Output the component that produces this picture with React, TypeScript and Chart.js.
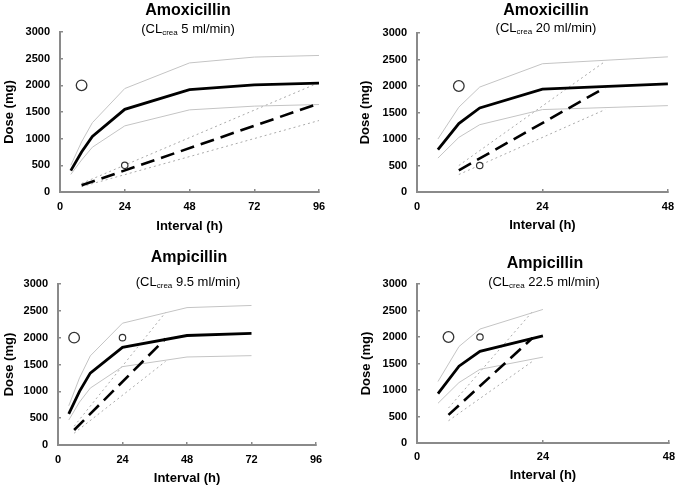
import React, { useEffect, useRef } from "react";
import { Chart, registerables } from "chart.js";

Chart.register(...registerables);

const FONT = "'Liberation Sans', Arial, sans-serif";

// ---------- Data ----------
// Panel A: Amoxicillin, CLcrea 5 ml/min
const AMOX5_HOURS = [4, 8, 12, 24, 48, 72, 96];
const AMOX5_MEDIAN = [400, 750, 1040, 1550, 1920, 2010, 2040];
const AMOX5_UPPER = [500, 940, 1300, 1940, 2420, 2530, 2560];
const AMOX5_LOWER = [330, 600, 840, 1240, 1540, 1610, 1640];
const AMOX5_FIXED_HOURS = [8, 96];
const AMOX5_FIXED = [125, 1660];
const AMOX5_FIXED_UPPER = [160, 2050];
const AMOX5_FIXED_LOWER = [100, 1340];
const AMOX5_BIG = [8, 2000];
const AMOX5_SMALL = [24, 500];

// Panel B: Amoxicillin, CLcrea 20 ml/min
const AMOX20_HOURS = [4, 8, 12, 24, 48];
const AMOX20_MEDIAN = [800, 1290, 1585, 1940, 2040];
const AMOX20_UPPER = [1000, 1600, 1980, 2420, 2550];
const AMOX20_LOWER = [640, 1030, 1270, 1555, 1630];
const AMOX20_FIXED_HOURS = [8, 36];
const AMOX20_FIXED = [410, 1970];
const AMOX20_FIXED_UPPER = [500, 2465];
const AMOX20_FIXED_LOWER = [330, 1555];
const AMOX20_BIG = [8, 2000];
const AMOX20_SMALL = [12, 500];

// Panel C: Ampicillin, CLcrea 9.5 ml/min
const AMP95_HOURS = [4, 8, 12, 24, 48, 72];
const AMP95_MEDIAN = [580, 1000, 1340, 1820, 2040, 2080];
const AMP95_UPPER = [730, 1250, 1660, 2270, 2560, 2600];
const AMP95_LOWER = [465, 800, 1060, 1460, 1640, 1665];
const AMP95_FIXED_HOURS = [6, 40];
const AMP95_FIXED = [280, 1980];
const AMP95_FIXED_UPPER = [350, 2470];
const AMP95_FIXED_LOWER = [220, 1556];
const AMP95_BIG = [6, 2000];
const AMP95_SMALL = [24, 2000];

// Panel D: Ampicillin, CLcrea 22.5 ml/min
const AMP225_HOURS = [4, 8, 12, 24];
const AMP225_MEDIAN = [930, 1450, 1730, 2020];
const AMP225_UPPER = [1160, 1820, 2150, 2520];
const AMP225_LOWER = [750, 1140, 1390, 1620];
const AMP225_FIXED_HOURS = [6, 22];
const AMP225_FIXED = [530, 1980];
const AMP225_FIXED_UPPER = [660, 2480];
const AMP225_FIXED_LOWER = [420, 1540];
const AMP225_BIG = [6, 2000];
const AMP225_SMALL = [12, 2000];

const Y_MAX = 3000;
const Y_STEP = 500;
const X_STEP = 24;

// ---------- Panel definitions ----------
type PanelCfg = {
  drug: string;
  cl: string;
  xMax: number;
  hours: number[];
  median: number[];
  upper: number[];
  lower: number[];
  fixedHours: number[];
  fixed: number[];
  fixedUpper: number[];
  fixedLower: number[];
  big: number[];
  small: number[];
  left: number;
  top: number;
  w: number;
  h: number;
  pad: { left: number; top: number; right: number; bottom: number };
  yW: number;
  xH: number;
  xTickPad: number;
  titleX: number;
  titleY: number;
  subX: number;
  subY: number;
};

const PANELS: PanelCfg[] = [
  {
    drug: "Amoxicillin", cl: "5", xMax: 96,
    hours: AMOX5_HOURS, median: AMOX5_MEDIAN, upper: AMOX5_UPPER, lower: AMOX5_LOWER,
    fixedHours: AMOX5_FIXED_HOURS, fixed: AMOX5_FIXED, fixedUpper: AMOX5_FIXED_UPPER, fixedLower: AMOX5_FIXED_LOWER,
    big: AMOX5_BIG, small: AMOX5_SMALL,
    left: 0, top: 0, w: 340, h: 240,
    pad: { left: 2, top: 32, right: 21, bottom: 6 }, yW: 58, xH: 42, xTickPad: 11,
    titleX: 188, titleY: 10, subX: 188, subY: 28,
  },
  {
    drug: "Amoxicillin", cl: "20", xMax: 48,
    hours: AMOX20_HOURS, median: AMOX20_MEDIAN, upper: AMOX20_UPPER, lower: AMOX20_LOWER,
    fixedHours: AMOX20_FIXED_HOURS, fixed: AMOX20_FIXED, fixedUpper: AMOX20_FIXED_UPPER, fixedLower: AMOX20_FIXED_LOWER,
    big: AMOX20_BIG, small: AMOX20_SMALL,
    left: 340, top: 0, w: 345, h: 240,
    pad: { left: 18, top: 33, right: 10, bottom: 7 }, yW: 59, xH: 41, xTickPad: 11,
    titleX: 546, titleY: 10, subX: 546, subY: 27,
  },
  {
    drug: "Ampicillin", cl: "9.5", xMax: 96,
    hours: AMP95_HOURS, median: AMP95_MEDIAN, upper: AMP95_UPPER, lower: AMP95_LOWER,
    fixedHours: AMP95_FIXED_HOURS, fixed: AMP95_FIXED, fixedUpper: AMP95_FIXED_UPPER, fixedLower: AMP95_FIXED_LOWER,
    big: AMP95_BIG, small: AMP95_SMALL,
    left: 0, top: 240, w: 340, h: 247,
    pad: { left: 2, top: 44, right: 24, bottom: 1 }, yW: 56, xH: 41, xTickPad: 11,
    titleX: 189, titleY: 256.7, subX: 188, subY: 281,
  },
  {
    drug: "Ampicillin", cl: "22.5", xMax: 48,
    hours: AMP225_HOURS, median: AMP225_MEDIAN, upper: AMP225_UPPER, lower: AMP225_LOWER,
    fixedHours: AMP225_FIXED_HOURS, fixed: AMP225_FIXED, fixedUpper: AMP225_FIXED_UPPER, fixedLower: AMP225_FIXED_LOWER,
    big: AMP225_BIG, small: AMP225_SMALL,
    left: 340, top: 240, w: 345, h: 247,
    pad: { left: 19, top: 44, right: 9, bottom: 4 }, yW: 58, xH: 40, xTickPad: 10,
    titleX: 545, titleY: 262.7, subX: 544, subY: 281,
  },
];

const zip = (xs: number[], ys: number[]) => xs.map((x, i) => ({ x, y: ys[i] }));

const AXIS_GRAY = "#8a8a8a";
const plainNumber = (v: any) => String(v);

function Panel({ cfg }: { cfg: PanelCfg }) {
  const ref = useRef<HTMLCanvasElement>(null);

  useEffect(() => {
    if (!ref.current) return;
    const lineBase = { showLine: true, pointRadius: 0, pointHoverRadius: 0, fill: false, tension: 0 };
    const chart = new Chart(ref.current, {
      type: "scatter",
      data: {
        datasets: [
          {
            data: [{ x: cfg.big[0], y: cfg.big[1] }],
            pointRadius: 5.3, pointBorderWidth: 1.3,
            pointBackgroundColor: "#ffffff", pointBorderColor: "#333333",
            showLine: false,
          },
          {
            data: [{ x: cfg.small[0], y: cfg.small[1] }],
            pointRadius: 3.2, pointBorderWidth: 1.2,
            pointBackgroundColor: "#ffffff", pointBorderColor: "#333333",
            showLine: false,
          },
          { ...lineBase, data: zip(cfg.hours, cfg.median), borderColor: "#000000", borderWidth: 2.8 },
          {
            ...lineBase, data: zip(cfg.fixedHours, cfg.fixed), borderColor: "#000000",
            borderWidth: 2.6, borderDash: [14, 7],
          },
          { ...lineBase, data: zip(cfg.hours, cfg.upper), borderColor: "#c4c4c4", borderWidth: 1 },
          { ...lineBase, data: zip(cfg.hours, cfg.lower), borderColor: "#c4c4c4", borderWidth: 1 },
          {
            ...lineBase, data: zip(cfg.fixedHours, cfg.fixedUpper), borderColor: "#aaaaaa",
            borderWidth: 1, borderDash: [2, 3],
          },
          {
            ...lineBase, data: zip(cfg.fixedHours, cfg.fixedLower), borderColor: "#aaaaaa",
            borderWidth: 1, borderDash: [2, 3],
          },
        ] as any,
      },
      options: {
        responsive: false,
        animation: false,
        devicePixelRatio: 1,
        events: [],
        layout: { padding: cfg.pad },
        plugins: { legend: { display: false }, tooltip: { enabled: false }, title: { display: false } },
        scales: {
          x: {
            type: "linear",
            min: 0,
            max: cfg.xMax,
            afterFit: (s: any) => { s.height = cfg.xH; },
            ticks: {
              stepSize: X_STEP, padding: cfg.xTickPad, color: "#000000", maxRotation: 0, autoSkip: false,
              font: { family: FONT, size: 11, weight: "bold" },
              callback: plainNumber,
            },
            grid: { drawOnChartArea: false, drawTicks: true, tickLength: -3, color: AXIS_GRAY, lineWidth: 1.5 },
            border: { color: AXIS_GRAY, width: 2 },
            title: {
              display: true, text: "Interval (h)", color: "#000000", padding: 0,
              font: { family: FONT, size: 13, weight: "bold" },
            },
          },
          y: {
            type: "linear",
            min: 0,
            max: Y_MAX,
            afterFit: (s: any) => { s.width = cfg.yW; },
            ticks: {
              stepSize: Y_STEP, padding: 13, color: "#000000",
              font: { family: FONT, size: 11, weight: "bold" },
              callback: plainNumber,
            },
            grid: { drawOnChartArea: false, drawTicks: true, tickLength: -3, color: AXIS_GRAY, lineWidth: 1.5 },
            border: { color: AXIS_GRAY, width: 2 },
            title: {
              display: true, text: "Dose (mg)", color: "#000000", padding: 0,
              font: { family: FONT, size: 13, weight: "bold" },
            },
          },
        },
      } as any,
    });
    return () => chart.destroy();
  }, [cfg]);

  return (
    <>
      <canvas
        ref={ref}
        width={cfg.w}
        height={cfg.h}
        style={{ position: "absolute", left: cfg.left, top: cfg.top, width: cfg.w, height: cfg.h, display: "block" }}
      />
      <div
        style={{
          position: "absolute", left: cfg.titleX - 100, width: 200, top: cfg.titleY - 7.8,
          textAlign: "center", fontFamily: FONT, fontWeight: "bold", fontSize: 16, lineHeight: "16px",
          color: "#000", whiteSpace: "nowrap",
        }}
      >
        {cfg.drug}
      </div>
      <div
        style={{
          position: "absolute", left: cfg.subX - 100, width: 200, top: cfg.subY - 6.4,
          textAlign: "center", fontFamily: FONT, fontSize: 13, lineHeight: "13px",
          color: "#000", whiteSpace: "nowrap",
        }}
      >
        (CL<span style={{ fontSize: 8, position: "relative", top: 2 }}>crea</span> {cfg.cl} ml/min)
      </div>
    </>
  );
}

export default function App() {
  return (
    <div style={{ position: "absolute", left: 0, top: 0, width: 685, height: 487, background: "#ffffff" }}>
      {PANELS.map((p, i) => (
        <Panel key={i} cfg={p} />
      ))}
    </div>
  );
}
